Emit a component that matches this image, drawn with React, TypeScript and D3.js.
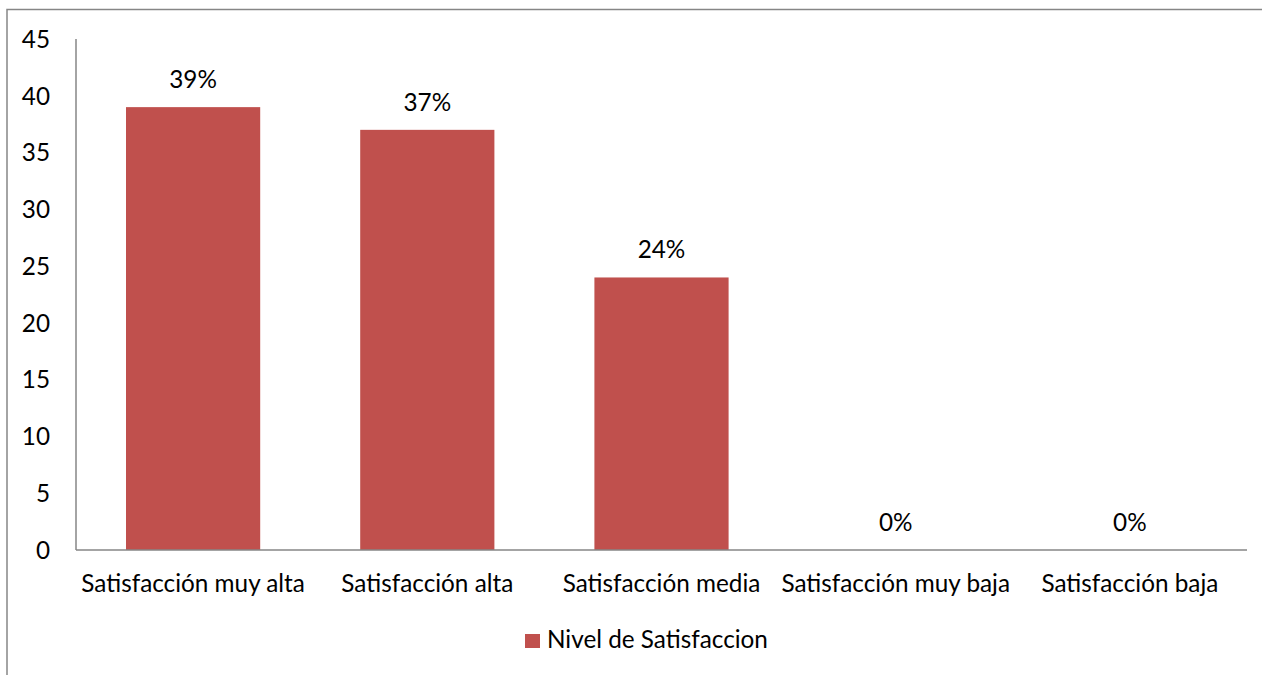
import React from "react";
import * as d3 from "d3";

const categories = [
  "Satisfacción muy alta",
  "Satisfacción alta",
  "Satisfacción media",
  "Satisfacción muy baja",
  "Satisfacción baja",
];
const values = [39, 37, 24, 0, 0];
const valueLabels = ["39%", "37%", "24%", "0%", "0%"];
const yTicks = [0, 5, 10, 15, 20, 25, 30, 35, 40, 45];
const seriesName = "Nivel de Satisfaccion";

const W = 1262;
const H = 675;
const FONT = "Lato, 'Open Sans', sans-serif";
const FS = 24.3;
const BAR = "#c0504d";
const AXIS = "#868686";

export default function App() {
  const left = 76;
  const right = 1247;
  const top = 39;
  const bottom = 550;
  const x = d3.scaleBand<string>().domain(categories).range([left, right]).paddingInner(0.427).paddingOuter(0.2135);
  const y = d3.scaleLinear().domain([0, 45]).range([bottom, top]);

  return (
    <svg
      width={W}
      height={H}
      style={{ position: "absolute", left: 0, top: 0, background: "#fff" }}
      fontFamily={FONT}
    >
      <rect x={7} y={9.5} width={1400} height={800} fill="none" stroke={AXIS} strokeWidth={1.5} />
      {categories.map((c, i) => (
        <rect
          key={c}
          x={x(c)}
          y={y(values[i])}
          width={x.bandwidth()}
          height={y(0) - y(values[i])}
          fill={BAR}
        />
      ))}
      <line x1={left} x2={left} y1={top} y2={bottom} stroke={AXIS} strokeWidth={1.5} />
      <line x1={left} x2={right} y1={bottom} y2={bottom} stroke={AXIS} strokeWidth={1.5} />
      {yTicks.map((t) => (
        <text key={t} x={50} y={y(t)} dy="0.36em" textAnchor="end" fontSize={FS} fill="#000">
          {t}
        </text>
      ))}
      {categories.map((c, i) => (
        <text
          key={"v" + c}
          x={(x(c) as number) + x.bandwidth() / 2}
          y={y(values[i]) - 19}
          textAnchor="middle"
          fontSize={FS}
          fill="#000"
        >
          {valueLabels[i]}
        </text>
      ))}
      {categories.map((c) => (
        <text
          key={"c" + c}
          x={(x(c) as number) + x.bandwidth() / 2}
          y={592}
          textAnchor="middle"
          fontSize={FS}
          fill="#000"
        >
          {c}
        </text>
      ))}
      <rect x={525} y={634} width={15} height={14} fill={BAR} />
      <text x={547} y={648} fontSize={FS} fill="#000">
        {seriesName}
      </text>
    </svg>
  );
}
